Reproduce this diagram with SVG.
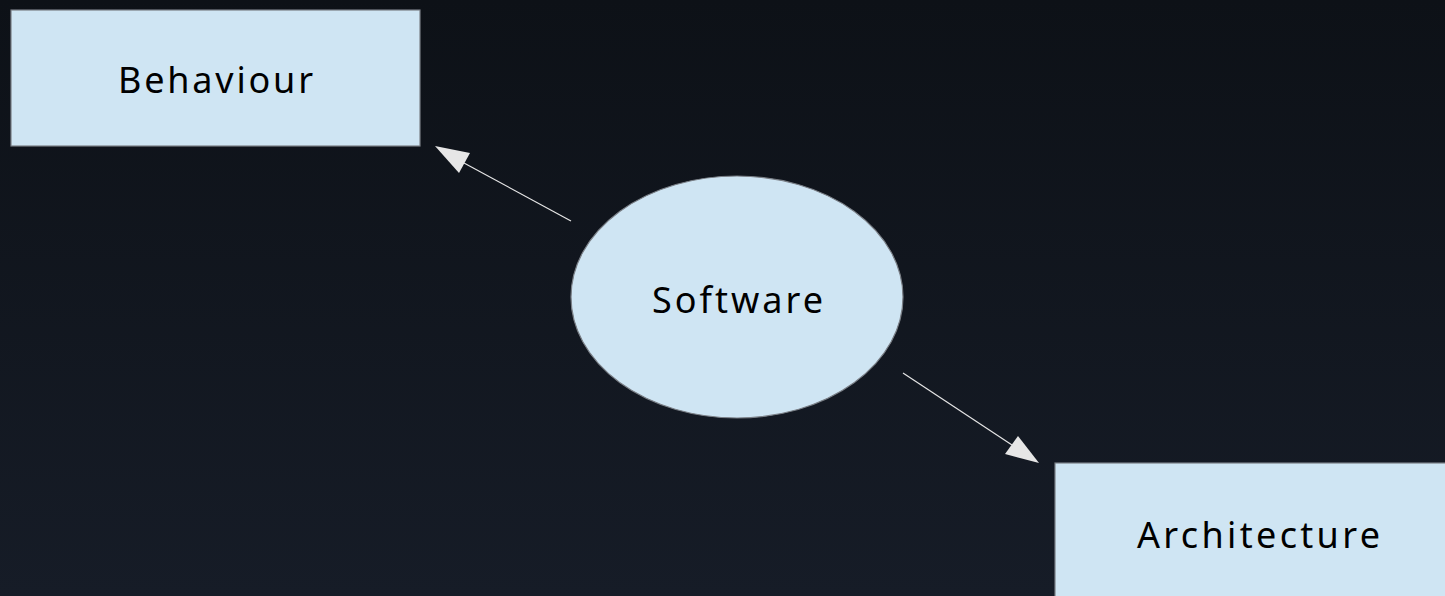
<svg xmlns="http://www.w3.org/2000/svg" width="1445" height="596" viewBox="0 0 1445 596">
<defs>
<linearGradient id="bg" x1="0" y1="0" x2="0" y2="1">
<stop offset="0" stop-color="#0d1117"/>
<stop offset="1" stop-color="#161c27"/>
</linearGradient>
<style>
.node{fill:#cfe5f3;stroke:#7a7f86;stroke-width:1.2}
.lbl{font-family:"Noto Sans","Open Sans",sans-serif;font-size:36px;fill:#000;text-anchor:middle}
.edge{stroke:#e6e6e6;stroke-width:1.2;fill:none}
.head{fill:#e6e6e6}
</style>
</defs>
<rect width="1445" height="596" fill="url(#bg)"/>
<g id="connectors">
<line class="edge" x1="571" y1="221" x2="464" y2="163"/>
<polygon class="head" points="435,146 470,153 459,173"/>
<line class="edge" x1="903" y1="373" x2="1012" y2="445"/>
<polygon class="head" points="1039,463 1018,436 1005,454"/>
</g>
<g id="behaviour">
<rect class="node" x="11" y="10" width="409" height="136"/>
<text class="lbl" x="215.5" y="93" textLength="195" lengthAdjust="spacing">Behaviour</text>
</g>
<g id="software">
<ellipse class="node" cx="737" cy="297" rx="166" ry="121"/>
<text class="lbl" x="737.5" y="313" textLength="171" lengthAdjust="spacing">Software</text>
</g>
<g id="architecture">
<rect class="node" x="1055" y="463" width="409" height="136"/>
<text class="lbl" x="1258.5" y="548" textLength="243" lengthAdjust="spacing">Architecture</text>
</g>
</svg>
